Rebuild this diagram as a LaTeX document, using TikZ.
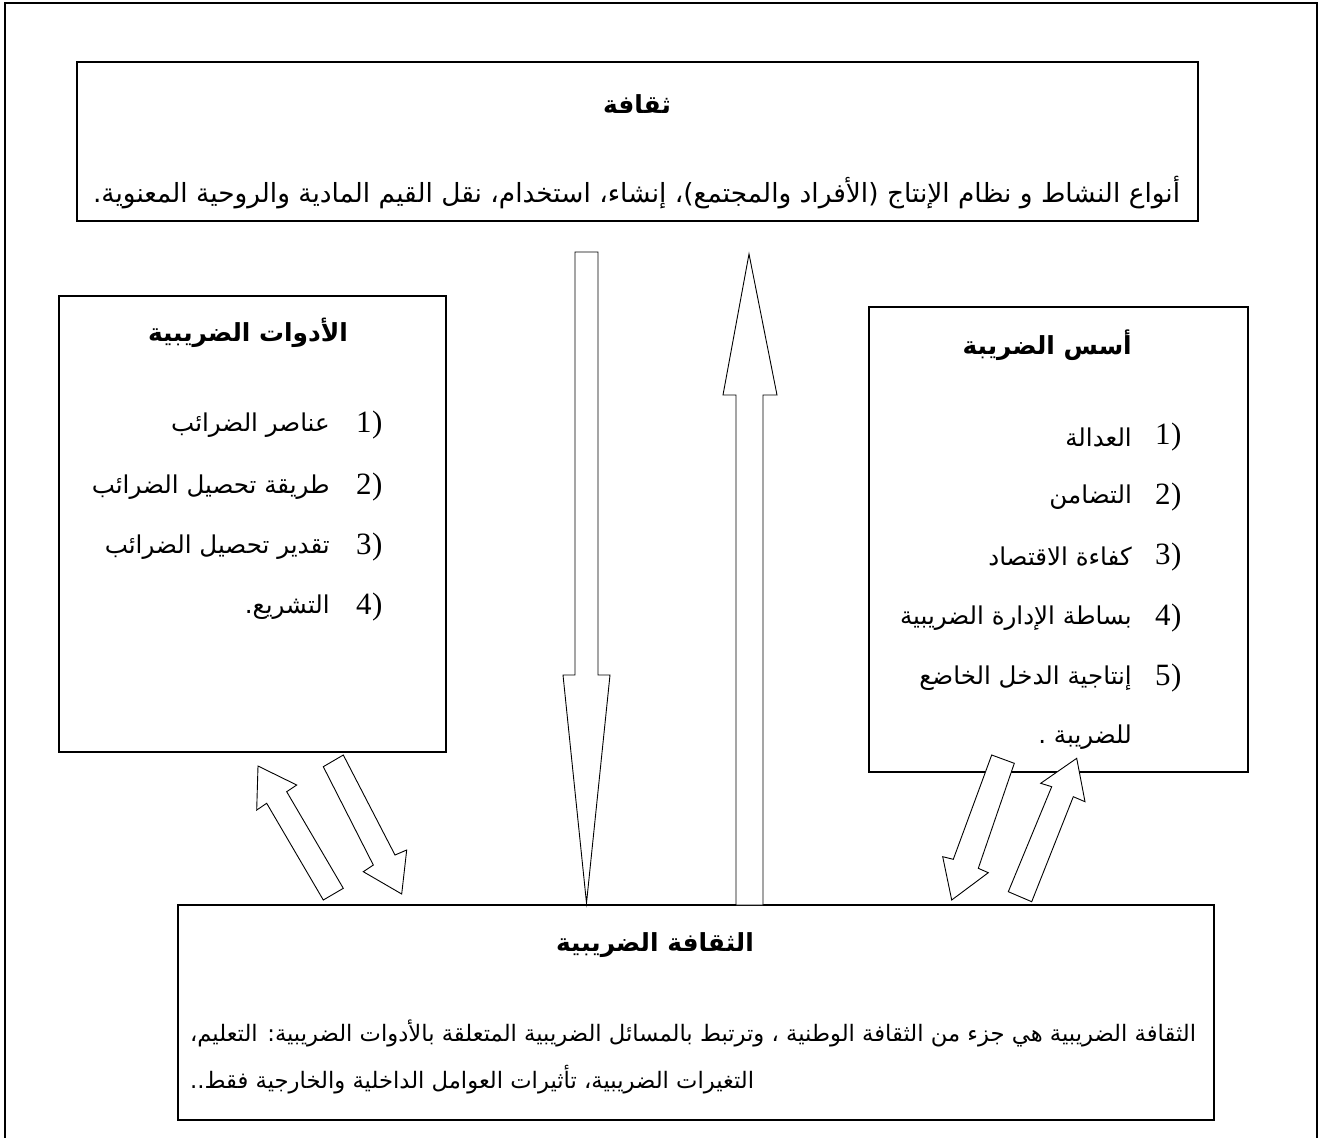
\documentclass[tikz,border=0pt]{standalone}
\usepackage{fontspec}
\newfontfamily\arabicfont[Script=Arabic]{DejaVu Sans}
\newfontfamily\numfont{Liberation Serif}
\TeXXeTstate=1
\newsavebox\fitbox
\newlength\fitlen
\newcommand\fitfs[4]{%
  \sbox\fitbox{#3\fontsize{10pt}{12pt}\selectfont\beginR #4\endR}%
  \setlength\fitlen{\wd\fitbox}%
  \pgfmathsetmacro#1{10*#2/\fitlen}}
\newcommand\ar[2]{{\arabicfont\fontsize{#1pt}{#1pt}\selectfont\beginR #2\endR}}
\newcommand\arb[2]{{\arabicfont\bfseries\fontsize{#1pt}{#1pt}\selectfont\beginR #2\endR}}
\newcommand\rparen{\XeTeXglyph\XeTeXcharglyph`\)\relax}
\tikzset{
  box/.style={draw, line width=1.4pt, inner sep=0pt},
  frame/.style={draw, line width=1.4pt},
  blockarr/.style={draw, fill=white, line width=0.9pt, line join=miter},
  txt/.style={inner sep=0pt},
  num/.style={inner sep=0pt, font=\numfont\fontsize{31pt}{31pt}\selectfont}
}
% #1 name, #2 position, #3 digit
\newcommand\numitem[3]{%
  \node[num, anchor=west] (#1) at (#2) {\vphantom{)}#3};
  \node[num, anchor=west] (#1p) at (#1.east) {\vphantom{1}\rparen};
}
\begin{document}
\fitfs\fsA{1087}{\arabicfont}{\beginR أنواع النشاط و نظام الإنتاج (الأفراد والمجتمع)، إنشاء، استخدام، نقل القيم المادية والروحية المعنوية.\endR}%
\fitfs\fsB{1006}{\arabicfont}{\beginR الثقافة الضريبية هي جزء من الثقافة الوطنية ، وترتبط بالمسائل الضريبية المتعلقة بالأدوات الضريبية: التعليم،\endR}%
\fitfs\fsC{238}{\arabicfont}{\beginR طريقة تحصيل الضرائب\endR}%
\fitfs\fsD{200}{\arabicfont\bfseries}{\beginR الأدوات الضريبية\endR}%
\begin{tikzpicture}[x=1pt,y=-1pt]
\useasboundingbox (0,0) rectangle (1318,1138);
\fill[white] (0,0) rectangle (1318,1138);
\draw[frame] (5,3) rectangle (1317,1150);
% boxes
\node[box, minimum width=1121pt, minimum height=159pt] (top) at (637.5,141.5) {};
\node[box, minimum width=387pt, minimum height=456pt] (left) at (252.5,524) {};
\node[box, minimum width=379pt, minimum height=465pt] (right) at (1058.5,539.5) {};
\node[box, minimum width=1036pt, minimum height=215pt] (bottom) at (696,1012.5) {};
% top box text
\node[txt] (toptitle) at (637,104) {\arb{\fsD}{\beginR ثقافة\endR}};
\node[txt] (topbody) at (636.5,193) {\ar{\fsA}{\beginR أنواع النشاط و نظام الإنتاج (الأفراد والمجتمع)، إنشاء، استخدام، نقل القيم المادية والروحية المعنوية.\endR}};
% left box text
\node[txt] (lefttitle) at (248,333) {\arb{\fsD}{\beginR الأدوات الضريبية\endR}};
\node[txt, anchor=east] (l1) at (330,425) {\ar{\fsC}{\beginR عناصر الضرائب\endR}};
\node[txt, anchor=east] (l2) at (330,487) {\ar{\fsC}{\beginR طريقة تحصيل الضرائب\endR}};
\node[txt, anchor=east] (l3) at (330,547) {\ar{\fsC}{\beginR تقدير تحصيل الضرائب\endR}};
\node[txt, anchor=east] (l4) at (330,607) {\ar{\fsC}{\beginR التشريع.\endR}};
\numitem{n1}{356,425}{1}
\numitem{n2}{356,487}{2}
\numitem{n3}{356,547}{3}
\numitem{n4}{356,607}{4}
% right box text
\node[txt, anchor=east] (righttitle) at (1132,345) {\arb{\fsD}{\beginR أسس الضريبة\endR}};
\node[txt, anchor=east] (r1) at (1132,437) {\ar{\fsC}{\beginR العدالة\endR}};
\node[txt, anchor=east] (r2) at (1132,497) {\ar{\fsC}{\beginR التضامن\endR}};
\node[txt, anchor=east] (r3) at (1132,557) {\ar{\fsC}{\beginR كفاءة الاقتصاد\endR}};
\node[txt, anchor=east] (r4) at (1132,618) {\ar{\fsC}{\beginR بساطة الإدارة الضريبية\endR}};
\node[txt, anchor=east] (r5) at (1132,678) {\ar{\fsC}{\beginR إنتاجية الدخل الخاضع\endR}};
\node[txt, anchor=east] (r5b) at (1132,737) {\ar{\fsC}{\beginR للضريبة .\endR}};
\numitem{m1}{1155,437}{1}
\numitem{m2}{1155,497}{2}
\numitem{m3}{1155,557}{3}
\numitem{m4}{1155,618}{4}
\numitem{m5}{1155,678}{5}
% bottom box text
\node[txt] (bottitle) at (655,945) {\arb{\fsD}{\beginR الثقافة الضريبية\endR}};
\node[txt] (botl1) at (693,1033) {\ar{\fsB}{\beginR الثقافة الضريبية هي جزء من الثقافة الوطنية ، وترتبط بالمسائل الضريبية المتعلقة بالأدوات الضريبية: التعليم،\endR}};
\node[txt, anchor=west] (botl2) at (190,1080) {\ar{\fsB}{\beginR التغيرات الضريبية، تأثيرات العوامل الداخلية والخارجية فقط..\endR}};
% vertical block arrows
\draw[blockarr] (575,252) -- (598,252) -- (598,675) -- (610,675) -- (586.5,903) -- (563,675) -- (575,675) -- cycle;
\draw[blockarr] (749,254) -- (777,395) -- (763,395) -- (763,905) -- (736,905) -- (736,395) -- (723,395) -- cycle;
% left pair
\draw[blockarr] (258,766) -- (296.7,785) -- (286.7,791.7) -- (343.3,888.3) -- (323.3,900) -- (266.7,803.3) -- (256.7,810) -- cycle;
\draw[blockarr] (323.3,766.7) -- (343.3,755) -- (395,855) -- (406.7,850) -- (401.7,894) -- (363.3,871.7) -- (373.3,865) -- cycle;
% right pair
\draw[blockarr] (991.7,755) -- (1014.3,763.3) -- (978.3,868.3) -- (988.3,872.7) -- (951.7,900) -- (942.7,856.7) -- (953.3,859.3) -- cycle;
\draw[blockarr] (1076.7,758.3) -- (1085,801.7) -- (1073.3,796.7) -- (1031.7,901.7) -- (1008.3,891.7) -- (1051.7,786.7) -- (1040.7,783.3) -- cycle;
\end{tikzpicture}
\end{document}
